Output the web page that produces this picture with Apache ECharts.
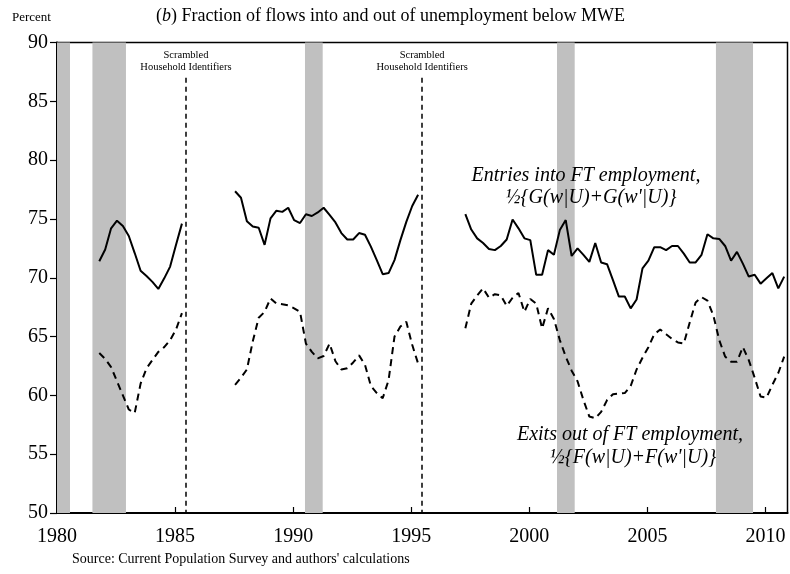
<!DOCTYPE html>
<html><head><meta charset="utf-8">
<script src="https://cdn.jsdelivr.net/npm/echarts@6/dist/echarts.min.js"></script>
<style>html,body{margin:0;padding:0;background:#fff}#c{width:790px;height:574px}</style>
</head><body><div id="c"></div><script>
// ---- data ----
const recessions = [[1980.0, 1980.55], [1981.5, 1982.92], [1990.5, 1991.25], [2001.17, 2001.92], [2007.9, 2009.47]];
const breakYears = [1985.46, 1995.46];
const quarterStep = 0.25;
const seg1Start = 1981.79, seg2Start = 1987.54, seg3Start = 1997.29;
const entries1 = [71.4, 72.4, 74.2, 74.85, 74.4, 73.55, 72.1, 70.6, 70.15, 69.65, 69.05, 69.95, 70.95, 72.8, 74.6];
const exits1 = [63.6, 63.1, 62.4, 61.2, 60.0, 58.8, 58.5, 61.0, 62.3, 63.0, 63.7, 64.1, 64.7, 65.6, 67.0];
const entries2 = [77.35, 76.8, 74.8, 74.35, 74.25, 72.8, 75.05, 75.7, 75.6, 75.95, 74.9, 74.65, 75.4, 75.25, 75.55, 75.95,
  75.35, 74.7, 73.8, 73.25, 73.25, 73.8, 73.65, 72.65, 71.5, 70.3, 70.4, 71.5, 73.2, 74.75, 76.1, 77.05];
const exits2 = [60.9, 61.5, 62.2, 64.6, 66.6, 67.1, 68.25, 67.8, 67.75, 67.65, 67.4, 67.1, 64.4, 63.7, 63.15, 63.35,
  64.4, 62.9, 62.2, 62.3, 62.8, 63.4, 62.6, 60.8, 60.2, 59.75, 61.3, 65.0, 65.85, 66.25, 64.3, 62.7];
const entries3 = [75.4, 74.1, 73.35, 72.95, 72.45, 72.35, 72.7, 73.25, 74.95, 74.2, 73.35, 73.2, 70.25, 70.25, 72.35, 71.95,
  74.05, 74.9, 71.85, 72.5, 71.95, 71.35, 72.95, 71.3, 71.15, 69.8, 68.4, 68.4, 67.4, 68.15, 70.8, 71.45,
  72.6, 72.6, 72.35, 72.7, 72.7, 72.05, 71.3, 71.3, 71.95, 73.7, 73.35, 73.3, 72.7, 71.45, 72.2, 71.2,
  70.1, 70.25, 69.5, 69.95, 70.4, 69.1, 70.1];
const exits3 = [65.7, 67.8, 68.5, 69.1, 68.3, 68.6, 68.5, 67.6, 68.3, 68.7, 67.1, 68.2, 67.8, 65.7, 67.4, 66.5,
  64.7, 63.3, 62.1, 61.2, 59.6, 58.2, 58.05, 58.6, 59.6, 60.1, 60.15, 60.2, 60.8, 62.2, 63.2, 64.1,
  65.2, 65.6, 65.2, 64.8, 64.5, 64.4, 66.2, 67.9, 68.35, 68.05, 66.8, 64.7, 63.3, 62.85, 62.85, 64.1,
  63.0, 61.5, 59.9, 59.8, 60.9, 61.9, 63.3];
const xTickLabels = [1980, 1985, 1990, 1995, 2000, 2005, 2010];
const yTickLabels = [50, 55, 60, 65, 70, 75, 80, 85, 90];

// ---- build ----
const F = 'Liberation Serif, Times New Roman, serif';
function pairs(start, vals) { return vals.map((v, i) => [start + i * quarterStep, v]); }
function lineSeries(start, vals, dashed) {
  return {
    type: 'line', data: pairs(start, vals), showSymbol: false, symbol: 'none', z: 5,
    lineStyle: { color: '#000', width: 2, type: dashed ? [7, 5] : 'solid' }, animation: false
  };
}
const annot = (x, y, t) => ({ type: 'text', x: x, y: y, z: 10,
  style: { text: t, font: 'italic 20px ' + F, fill: '#000', textAlign: 'center', textVerticalAlign: 'middle' } });
const chart = echarts.init(document.getElementById('c'), null, { renderer: 'canvas' });
chart.setOption({
  animation: false,
  backgroundColor: '#fff',
  grid: { left: 57, right: 2.5, top: 42.5, bottom: 61, show: true, borderColor: '#000', borderWidth: 1.5, backgroundColor: 'transparent' },
  xAxis: {
    type: 'value', min: xTickLabels[0], max: 2010.93, interval: 5,
    axisLine: { lineStyle: { color: '#000', width: 2 } },
    axisTick: { inside: true, length: 6, lineStyle: { color: '#000', width: 1.2 } },
    splitLine: { show: false },
    axisLabel: { color: '#000', fontFamily: F, fontSize: 20, margin: 14, showMaxLabel: false,
      formatter: v => xTickLabels.includes(v) ? String(v) : '' }
  },
  yAxis: {
    type: 'value', min: yTickLabels[0], max: yTickLabels[yTickLabels.length - 1], interval: 5,
    axisLine: { show: true, lineStyle: { color: '#000', width: 2 } },
    axisTick: { show: true, inside: false, length: 7, lineStyle: { color: '#000', width: 1.2 } },
    splitLine: { show: false },
    axisLabel: { color: '#000', fontFamily: F, fontSize: 20, margin: 9 }
  },
  graphic: [
    { type: 'text', left: 12, top: 11, style: { text: 'Percent', font: '13px ' + F, fill: '#000' } },
    { type: 'text', left: 156, top: 7, style: {
      rich: { i: { fontFamily: F, fontSize: 18, fontStyle: 'italic', fill: '#000' }, n: { fontFamily: F, fontSize: 18, fill: '#000' } },
      text: '{n|(}{i|b}{n|) Fraction of flows into and out of unemployment below MWE}' } },
    { type: 'text', left: 72, top: 552, style: { text: "Source: Current Population Survey and authors' calculations", font: '14px ' + F, fill: '#000' } },
    annot(586, 176, 'Entries into FT employment,'),
    annot(591, 198, "\u00BD{G(w|U)+G(w'|U)}"),
    annot(630, 435, 'Exits out of FT employment,'),
    annot(633, 458, "\u00BD{F(w|U)+F(w'|U)}")
  ],
  series: [
    {
      type: 'line', data: [], z: 1, silent: true,
      markArea: { silent: true, itemStyle: { color: '#c0c0c0' },
        data: recessions.map(r => [{ xAxis: r[0] }, { xAxis: r[1] }]) },
      markLine: { silent: true, symbol: 'none', animation: false,
        lineStyle: { color: '#000', width: 1.5, type: [5, 4] },
        label: { show: true, position: 'start', distance: 5, formatter: 'Scrambled\nHousehold Identifiers',
          fontFamily: F, fontSize: 10.5, lineHeight: 12, color: '#000' },
        data: breakYears.map(b => [{ coord: [b, 87] }, { coord: [b, 50] }]) }
    },
    lineSeries(seg1Start, entries1, false),
    lineSeries(seg2Start, entries2, false),
    lineSeries(seg3Start, entries3, false),
    lineSeries(seg1Start, exits1, true),
    lineSeries(seg2Start, exits2, true),
    lineSeries(seg3Start, exits3, true)
  ]
});
</script></body></html>
